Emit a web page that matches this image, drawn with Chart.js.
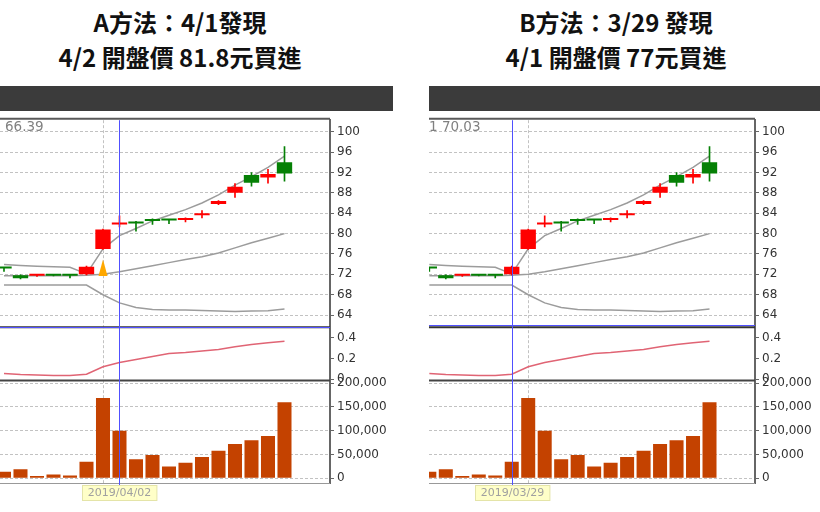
<!DOCTYPE html>
<html><head><meta charset="utf-8">
<script src="https://cdn.jsdelivr.net/npm/chart.js@4/dist/chart.umd.min.js"></script>
<style>
html,body{margin:0;padding:0;background:#fff;overflow:hidden;width:820px;height:512px;position:relative}
.ttl{position:absolute;top:4px;font-family:"Noto Sans CJK TC","Noto Sans CJK SC",sans-serif;font-weight:bold;font-size:24px;line-height:35px;color:#111;text-align:center;white-space:nowrap}
.hdr{position:absolute;top:86px;height:25px;background:#3b3b3b}
.wrap{position:absolute;top:110px;height:402px}
.lg{position:absolute;top:118px;font-family:"DejaVu Sans";font-size:13.5px;color:#808080;white-space:nowrap}
</style></head>
<body>
<div class="ttl" style="left:0;width:360px">A方法：4/1發現<br>4/2 開盤價 81.8元買進</div>
<div class="ttl" style="left:436px;width:360px">B方法：3/29 發現<br>4/1 開盤價 77元買進</div>
<div class="hdr" style="left:0;width:393px"></div>
<div class="hdr" style="left:429px;width:391px"></div>
<div class="wrap" style="left:0;width:400px"><canvas id="cA" width="400" height="402"></canvas></div>
<div class="wrap" style="left:429px;width:391px"><canvas id="cB" width="391" height="402"></canvas></div>
<div class="lg" style="left:5px">66.39</div>
<div class="lg" style="left:429px">1 70.03</div>
<script>
// ---- data ----
const dates  = ['2019/03/22','2019/03/25','2019/03/26','2019/03/27','2019/03/28','2019/03/29','2019/04/01','2019/04/02','2019/04/03','2019/04/08','2019/04/09','2019/04/10','2019/04/11','2019/04/12','2019/04/15','2019/04/16','2019/04/17','2019/04/18'];
const open   = [73.3, 71.8, 71.75,71.85,71.85,72.0, 77.0, 81.8, 82.3, 82.5, 82.6, 82.65,83.6, 85.8, 88.0, 91.5, 91.0, 94.0];
const close  = [73.15,71.25,71.8, 71.75,71.75,73.5, 80.8, 81.9, 82.0, 82.45,82.55,82.75,83.75,86.4, 89.2, 90.0, 91.7, 91.8];
const high   = [73.4, 71.9, 71.9, 71.9, 71.9, 73.6, 80.9, 83.5, 82.4, 82.9, 82.7, 83.1, 84.5, 86.5, 89.8, 92.0, 92.6, 97.1];
const low    = [72.6, 71.1, 71.6, 71.7, 71.3, 71.9, 76.9, 81.3, 80.5, 81.8, 81.95,82.3, 83.1, 85.7, 87.1, 89.3, 89.9, 90.3];
const upper  = [73.95,73.75,73.6, 73.5, 73.4, 72.1, 77.0, 79.6, 81.0, 82.5, 83.6, 84.7, 86.0, 87.6, 89.5, 91.2, 93.0, 95.2];
const middle = [71.75,71.75,71.75,71.75,71.75,71.8, 72.0, 72.5, 73.1, 73.7, 74.3, 74.9, 75.45,76.2, 77.2, 78.2, 79.1, 80.0];
const lower  = [69.9, 69.9, 69.9, 69.9, 69.9, 69.9, 68.0, 66.4, 65.5, 65.1, 65.0, 65.0, 64.9, 64.8, 64.7, 64.8, 64.85,65.2];
const indic  = [0.056,0.046,0.042,0.037,0.035,0.048,0.12, 0.162,0.19, 0.22, 0.248,0.257,0.272,0.288,0.313,0.335,0.352,0.367];
const volume = [14000,19000,5000,8000,6000,35000,169000,100000,40000,49000,25000,33000,45000,58000,72000,80000,89000,160000];
const priceTicks = [64,68,72,76,80,84,88,92,96,100];
const indicTicks = [0,0.2,0.4];
const volTicks   = [0,50000,100000,150000,200000];
const signalIndex = 6, signalLow = 71.7, signalHigh = 74.9;
const panelA = {cursor:7, cursorPrice:61.7, xMin:-0.242, xMax:19.758, axisW:70, signal:true};
const panelB = {cursor:5, cursorPrice:62.0, xMin:-0.02,  xMax:19.76,  axisW:65, signal:false};

// ---- styles ----
const UP = '#ff0000', DOWN = '#058005';
Chart.defaults.font.family = 'DejaVu Sans';
Chart.defaults.font.size = 12;
Chart.defaults.color = '#333';

const idx = dates.map((d,i)=>i);
const monthStart = idx.find(i => i>0 && dates[i].slice(5,7) !== dates[i-1].slice(5,7));
const candleColors = idx.map(i => close[i] >= open[i] ? UP : DOWN);

function yScale(weight, min, max, ticks, fmt, p, gridOn){
  return {
    type:'linear', position:'right', stack:'v', stackWeight:weight, min:min, max:max,
    afterBuildTicks: s => { s.ticks = ticks.map(v=>({value:v})); },
    afterFit: s => { s.width = p.axisW; },
    ticks:{ padding:3, color:'#333', callback: fmt, font:{size:12}, autoSkip:false },
    grid:{ color:'#c2c2c2', drawOnChartArea:gridOn, tickLength:4, tickColor:'#666', tickBorderDash:[], lineWidth:1 },
    border:{ color:'#666', width:2, dash:[3,2] }
  };
}

function makeChart(id, p){
  const overlay = {
    id:'overlay',
    beforeDatasetsDraw(chart){
      const {ctx, chartArea:a, scales:{x}} = chart;
      const px = Math.round(x.getPixelForValue(monthStart))+0.5;
      ctx.save(); ctx.strokeStyle='#c2c2c2'; ctx.lineWidth=1; ctx.setLineDash([3,2]);
      ctx.beginPath(); ctx.moveTo(px,a.top); ctx.lineTo(px,a.bottom+10); ctx.stroke(); ctx.restore();
    },
    afterDatasetsDraw(chart){
      const {ctx, chartArea:a, scales:{x,yP,yI}} = chart;
      ctx.save();
      if (p.signal){
        const sx = x.getPixelForValue(signalIndex);
        const yb = yP.getPixelForValue(signalLow), yt = yP.getPixelForValue(signalHigh);
        ctx.fillStyle='#ffa800';
        ctx.beginPath(); ctx.moveTo(sx, yt); ctx.lineTo(sx+4.5, yb); ctx.lineTo(sx-4.5, yb); ctx.closePath(); ctx.fill();
      }
      const hl = (y,w,c)=>{ctx.strokeStyle=c; ctx.lineWidth=w; ctx.beginPath(); ctx.moveTo(a.left,y); ctx.lineTo(a.right,y); ctx.stroke();};
      hl(a.top-1.5, 2, '#5a5a5a');
      hl(yP.bottom, 2, '#333');
      hl(yI.bottom, 2, '#444');
      hl(a.bottom+0.5, 1, '#999');
      // crosshair
      const cx = Math.round(x.getPixelForValue(p.cursor))+0.5;
      const cy = Math.round(yP.getPixelForValue(p.cursorPrice))+0.5;
      ctx.strokeStyle='#5050ff'; ctx.lineWidth=1;
      ctx.beginPath(); ctx.moveTo(cx,a.top); ctx.lineTo(cx,a.bottom+3); ctx.stroke();
      ctx.beginPath(); ctx.moveTo(a.left,cy); ctx.lineTo(a.right,cy); ctx.stroke();
      // date label
      const txt = dates[p.cursor];
      ctx.font = '11px "DejaVu Sans"';
      const w = ctx.measureText(txt).width + 11;
      const bx = Math.round(cx - w/2)+0.5, by = Math.round(a.bottom)+2.5;
      ctx.fillStyle='#ffffc8'; ctx.fillRect(bx,by,w,15);
      ctx.strokeStyle='#e4e4a8'; ctx.strokeRect(bx,by,w,15);
      ctx.fillStyle='#a0a0a0'; ctx.textAlign='center'; ctx.textBaseline='middle';
      ctx.fillText(txt, cx, by+8);
      ctx.restore();
    }
  };
  const lineDs = (arr, col, axis) => ({type:'line', data: idx.map(i=>({x:i,y:arr[i]})), yAxisID:axis,
      borderColor:col, borderWidth:1.5, pointRadius:0, tension:0, order:3});
  return new Chart(document.getElementById(id), {
    type:'bar',
    data:{ datasets:[
      {type:'bar', data: idx.map(i=>({x:i,y:[open[i],close[i]]})), yAxisID:'yP', backgroundColor:candleColors,
        grouped:false, categoryPercentage:1, barPercentage:0.93, minBarLength:2, borderWidth:0, order:1, clip:0},
      {type:'bar', data: idx.map(i=>({x:i,y:[low[i],high[i]]})), yAxisID:'yP', backgroundColor:candleColors,
        grouped:false, categoryPercentage:1, barPercentage:1, maxBarThickness:1, borderWidth:0, order:2, clip:0},
      lineDs(upper,'#9c9c9c','yP'),
      lineDs(middle,'#9c9c9c','yP'),
      lineDs(lower,'#9c9c9c','yP'),
      lineDs(indic,'#e06474','yI'),
      {type:'bar', data: idx.map(i=>({x:i,y:volume[i]})), yAxisID:'yV', backgroundColor:'#c44200',
        grouped:false, categoryPercentage:1, barPercentage:0.85, borderWidth:0, order:4, clip:0}
    ]},
    options:{
      responsive:false, animation:false, devicePixelRatio:1, events:[],
      layout:{padding:{top:5,bottom:29,left:0,right:0}},
      plugins:{legend:{display:false}, tooltip:{enabled:false}},
      scales:{
        x:{type:'linear', min:p.xMin, max:p.xMax, display:false, offset:false,
           afterBuildTicks: s => { s.ticks = idx.map(v=>({value:v})); }},
        yP: yScale(210, 61.62, 102.26, priceTicks, v=>String(v), p, true),
        yI: yScale(54, -0.012, 0.502, indicTicks, v=>String(v), p, false),
        yV: yScale(104, -9730, 205590, volTicks, v=>v.toLocaleString('en-US'), p, true)
      }
    },
    plugins:[overlay]
  });
}
makeChart('cA', panelA);
makeChart('cB', panelB);
</script>
</body></html>
